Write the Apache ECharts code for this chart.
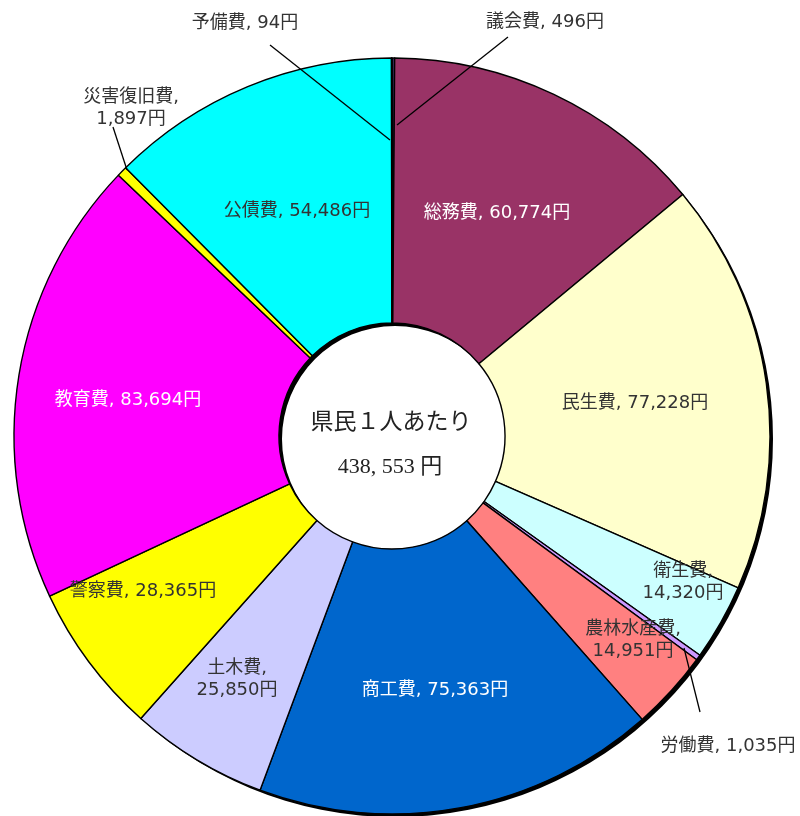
<!DOCTYPE html>
<html><head><meta charset="utf-8">
<script src="https://cdn.jsdelivr.net/npm/echarts@6/dist/echarts.min.js"></script>
<style>html,body{margin:0;padding:0;background:#fff}#c{width:800px;height:816px}</style>
</head><body><div id="c"></div>
<script>
// ---- data ----
const categories = ['議会費','総務費','民生費','衛生費','労働費','農林水産費','商工費','土木費','警察費','教育費','災害復旧費','公債費','予備費'];
const values = [496, 60774, 77228, 14320, 1035, 14951, 75363, 25850, 28365, 83694, 1897, 54486, 94];
const centerTitle = '県民１人あたり';
const centerUnit = '円';

// ---- styles ----
const colors = ['#3a2d5c','#993366','#FFFFCC','#CCFFFF','#CC99FF','#FF8080','#0066CC','#CCCCFF','#FFFF00','#FF00FF','#FFFF00','#00FFFF','#FF99CC'];
const labelColors = ['#333','#fff','#333','#333','#333','#333','#fff','#333','#333','#fff','#333','#333','#333'];
const twoLine = {'衛生費':1,'農林水産費':1,'土木費':1,'災害復旧費':1};
const outside = {'議会費':1,'労働費':1,'災害復旧費':1,'予備費':1};
const CX = 392, CY = 436, R0 = 113, R1 = 378;
// label centre offsets from pie centre (px)
const labelOffsets = {
  '議会費':[153,-414],'総務費':[105,-223],'民生費':[243,-33],'衛生費':[291,146],
  '労働費':[336,310],'農林水産費':[241,204],'商工費':[43,254],'土木費':[-155,243],
  '警察費':[-249,155],'教育費':[-264,-36],'災害復旧費':[-261,-328],'公債費':[-95,-225],'予備費':[-147,-413]
};
// leader lines: [start, end] offsets from centre
const leaderLines = {
  '議会費':[[5,-311],[116,-399]],
  '予備費':[[-2,-296],[-122,-391]],
  '災害復旧費':[[-265,-266],[-279,-309]],
  '労働費':[[292,212],[308,276]]
};

const total = values.reduce((a,b)=>a+b,0);
const fmt = v => v.toLocaleString('en-US');
const labelFont = "'DejaVu Sans','Noto Sans CJK JP',sans-serif";
const formatter = p => twoLine[p.name] ? (p.name + ',\n' + fmt(p.value) + '円') : (p.name + ', ' + fmt(p.value) + '円');
const layoutFn = function(params){
  const name = categories[params.dataIndex];
  const o = labelOffsets[name];
  const res = {x: CX + o[0], y: CY + o[1], align:'center', verticalAlign:'middle'};
  const ll = leaderLines[name];
  if (ll) {
    const s = [CX + ll[0][0], CY + ll[0][1]];
    const e = [CX + ll[1][0], CY + ll[1][1]];
    res.labelLinePoints = [s, e, e];
  }
  return res;
};

// main sectors with inside labels
const pieData = categories.map((name,i)=>({
  name, value: values[i],
  itemStyle:{color: colors[i]},
  label:{show: !outside[name], position:'inside', color: labelColors[i]},
  labelLine:{show:false}
}));
// transparent overlay carrying the outside labels and leader lines (drawn above sectors)
const overlayData = categories.map((name,i)=>({
  name, value: values[i],
  label:{show: !!outside[name], position:'outside', color: labelColors[i]},
  labelLine:{show: !!outside[name]}
}));

const chart = echarts.init(document.getElementById('c'), null, {renderer:'canvas'});
chart.setOption({
  animation:false,
  backgroundColor:'#fff',
  series:[
    {
      type:'pie', silent:true, z:1,
      center:[CX+3, CY+3], radius:[R0,R1],
      startAngle:90, clockwise:true,
      label:{show:false}, labelLine:{show:false},
      itemStyle:{color:'#000', borderWidth:0},
      emphasis:{disabled:true},
      data:[{value:1}]
    },
    {
      type:'pie', z:2,
      center:[CX, CY], radius:[R0,R1],
      startAngle:90, clockwise:true,
      avoidLabelOverlap:false,
      itemStyle:{borderColor:'#000', borderWidth:1.4},
      emphasis:{disabled:true},
      label:{show:true, fontFamily:labelFont, fontSize:18, lineHeight:22, formatter},
      labelLayout: layoutFn,
      data: pieData
    },
    {
      type:'pie', z:3, silent:true,
      center:[CX, CY], radius:[R0,R1],
      startAngle:90, clockwise:true,
      avoidLabelOverlap:false,
      itemStyle:{color:'rgba(0,0,0,0)', borderWidth:0},
      emphasis:{disabled:true},
      label:{show:true, fontFamily:labelFont, fontSize:18, lineHeight:22, formatter},
      labelLine:{lineStyle:{color:'#000', width:1.3}},
      labelLayout: layoutFn,
      data: overlayData
    }
  ],
  graphic:[
    {type:'text', x:CX-1, y:CY-13, z:10, style:{text:centerTitle, fill:'#222', font:"23px 'Liberation Serif','Noto Sans CJK JP',serif", align:'center', verticalAlign:'middle'}},
    {type:'text', x:CX-2, y:CY+31, z:10, style:{text: total.toLocaleString('en-US').replace(',', ', ') + ' ' + centerUnit, fill:'#222', font:"22px 'Liberation Serif','Noto Sans CJK JP',serif", align:'center', verticalAlign:'middle'}}
  ]
});
</script>
</body></html>
